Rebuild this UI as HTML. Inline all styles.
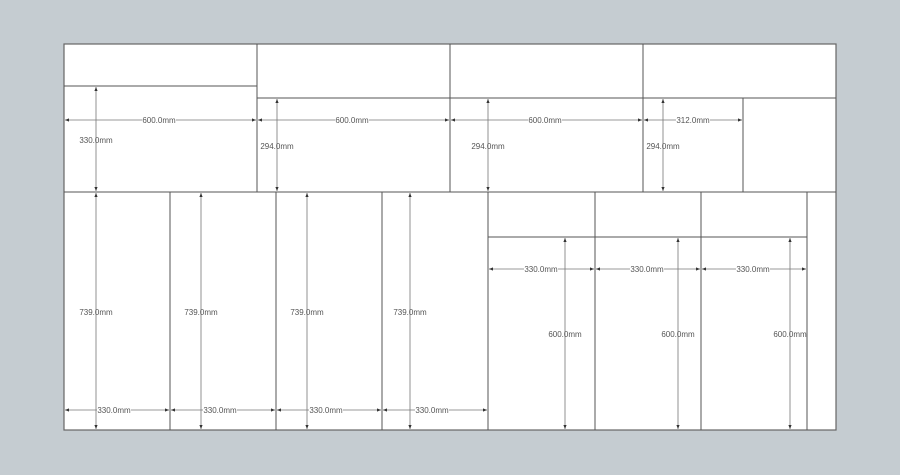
<!DOCTYPE html>
<html><head><meta charset="utf-8"><style>
html,body{margin:0;padding:0;background:#c5ccd1;}
svg{display:block;}
text{font-family:"Liberation Sans",sans-serif;font-size:8px;fill:#555;}
</style></head><body>
<svg width="900" height="475" viewBox="0 0 900 475" xmlns="http://www.w3.org/2000/svg">
<defs>
<marker id="a" viewBox="0 0 10 10" refX="10" refY="5" markerWidth="5" markerHeight="5" orient="auto-start-reverse"><path d="M0,1L10,5L0,9z" fill="#333"/></marker>
</defs>
<rect x="0" y="0" width="900" height="475" fill="#c5ccd1"/>
<rect x="64" y="44" width="772" height="386" fill="#fff" stroke="#666" stroke-width="1.2"/>
<g stroke="#555" stroke-width="1" fill="none">
<line x1="64" y1="86" x2="257" y2="86"/>
<line x1="257" y1="44" x2="257" y2="192"/>
<line x1="450" y1="44" x2="450" y2="192"/>
<line x1="643" y1="44" x2="643" y2="192"/>
<line x1="257" y1="98" x2="836" y2="98"/>
<line x1="743" y1="98" x2="743" y2="192"/>
<line x1="64" y1="192" x2="836" y2="192"/>
<line x1="170" y1="192" x2="170" y2="430"/>
<line x1="276" y1="192" x2="276" y2="430"/>
<line x1="382" y1="192" x2="382" y2="430"/>
<line x1="488" y1="192" x2="488" y2="430"/>
<line x1="595" y1="192" x2="595" y2="430"/>
<line x1="701" y1="192" x2="701" y2="430"/>
<line x1="807" y1="192" x2="807" y2="430"/>
<line x1="488" y1="237" x2="807" y2="237"/>
</g>
<g stroke="#777" stroke-width="0.8" marker-start="url(#a)" marker-end="url(#a)">
<line x1="65" y1="120" x2="256" y2="120"/>
<line x1="258" y1="120" x2="449" y2="120"/>
<line x1="451" y1="120" x2="642" y2="120"/>
<line x1="644" y1="120" x2="742" y2="120"/>
<line x1="96" y1="87" x2="96" y2="191"/>
<line x1="277" y1="99" x2="277" y2="191"/>
<line x1="488" y1="99" x2="488" y2="191"/>
<line x1="663" y1="99" x2="663" y2="191"/>
<line x1="96" y1="193" x2="96" y2="429"/>
<line x1="201" y1="193" x2="201" y2="429"/>
<line x1="307" y1="193" x2="307" y2="429"/>
<line x1="410" y1="193" x2="410" y2="429"/>
<line x1="65" y1="410" x2="169" y2="410"/>
<line x1="171" y1="410" x2="275" y2="410"/>
<line x1="277" y1="410" x2="381" y2="410"/>
<line x1="383" y1="410" x2="487" y2="410"/>
<line x1="489" y1="269" x2="594" y2="269"/>
<line x1="596" y1="269" x2="700" y2="269"/>
<line x1="702" y1="269" x2="806" y2="269"/>
<line x1="565" y1="238" x2="565" y2="429"/>
<line x1="678" y1="238" x2="678" y2="429"/>
<line x1="790" y1="238" x2="790" y2="429"/>
</g>
<g text-anchor="middle">
<g fill="#fff">
<rect x="142" y="115" width="34" height="10"/><rect x="335" y="115" width="34" height="10"/>
<rect x="528" y="115" width="34" height="10"/><rect x="676" y="115" width="34" height="10"/>
<rect x="97" y="405" width="34" height="10"/><rect x="203" y="405" width="34" height="10"/>
<rect x="309" y="405" width="34" height="10"/><rect x="415" y="405" width="34" height="10"/>
<rect x="524" y="264" width="34" height="10"/><rect x="630" y="264" width="34" height="10"/>
<rect x="736" y="264" width="34" height="10"/>
</g>
<text x="159" y="123">600.0mm</text>
<text x="352" y="123">600.0mm</text>
<text x="545" y="123">600.0mm</text>
<text x="693" y="123">312.0mm</text>
<text x="96" y="143">330.0mm</text>
<text x="277" y="149">294.0mm</text>
<text x="488" y="149">294.0mm</text>
<text x="663" y="149">294.0mm</text>
<text x="96" y="315">739.0mm</text>
<text x="201" y="315">739.0mm</text>
<text x="307" y="315">739.0mm</text>
<text x="410" y="315">739.0mm</text>
<text x="114" y="413">330.0mm</text>
<text x="220" y="413">330.0mm</text>
<text x="326" y="413">330.0mm</text>
<text x="432" y="413">330.0mm</text>
<text x="541" y="272">330.0mm</text>
<text x="647" y="272">330.0mm</text>
<text x="753" y="272">330.0mm</text>
<text x="565" y="337">600.0mm</text>
<text x="678" y="337">600.0mm</text>
<text x="790" y="337">600.0mm</text>
</g>
</svg>
</body></html>
